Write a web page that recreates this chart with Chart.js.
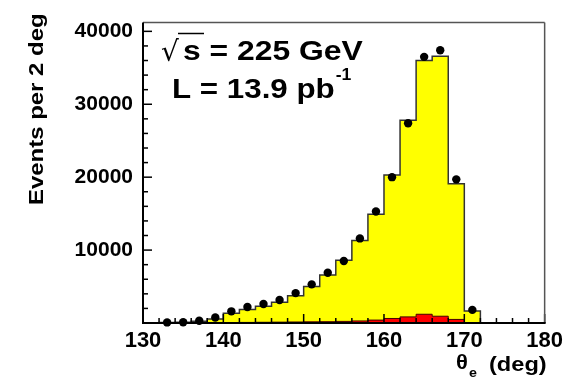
<!DOCTYPE html>
<html>
<head>
<meta charset="utf-8">
<script src="https://cdn.jsdelivr.net/npm/chart.js@4"></script>
<style>
  html, body { margin: 0; padding: 0; background: #fff; }
  canvas { display: block; }
</style>
</head>
<body>
<canvas id="chart" width="568" height="378"></canvas>
<script>
// Centros de los bins (2 grados cada uno)
const theta = [133, 135, 137, 139, 141, 143, 145, 147, 149, 151, 153, 155, 157, 159, 161, 163, 165, 167, 169, 171];
// Datos (puntos negros)
const dataEvents = [80, 100, 300, 750, 1600, 2200, 2600, 3150, 4100, 5300, 6900, 8500, 11600, 15300, 20000, 27400, 36500, 37400, 19700, 1800];
// Simulación total (amarillo)
const mcTotal = [60, 100, 250, 550, 1350, 1850, 2300, 2850, 3750, 5000, 6600, 8600, 11300, 14900, 20300, 27800, 36000, 36600, 19100, 1650];
// Fondo (rojo)
const mcBackground = [0, 0, 20, 40, 60, 80, 100, 120, 140, 160, 180, 220, 280, 400, 620, 840, 1200, 930, 490, 30];

const xTicks = [130, 140, 150, 160, 170, 180];
const yTicks = [10000, 20000, 30000, 40000];
const binWidth = 2;

const FONT = '"Liberation Sans", Arial, sans-serif';

// Histograma como línea escalonada desde los bordes de los bins
const toSteps = (values) => {
    const pts = [{ x: theta[0] - binWidth / 2, y: 0 }];
    theta.forEach((c, i) => pts.push({ x: c - binWidth / 2, y: values[i] }));
    pts.push({ x: theta[theta.length - 1] + binWidth / 2, y: 0 });
    return pts;
};

const line = (ctx, x1, y1, x2, y2) => {
    ctx.beginPath();
    ctx.moveTo(x1, y1);
    ctx.lineTo(x2, y2);
    ctx.stroke();
};

const stretchText = (ctx, text, x, y, sx) => {
    ctx.save();
    ctx.translate(x, y);
    ctx.scale(sx, 1);
    ctx.fillText(text, 0, 0);
    const w = ctx.measureText(text).width * sx;
    ctx.restore();
    return w;
};

// Marco, ticks hacia dentro y textos
const framePlugin = {
    id: 'frame',
    afterDatasetsDraw(chart) {
        const { ctx, chartArea: a, scales: { x, y } } = chart;
        ctx.save();
        ctx.strokeStyle = '#000';
        ctx.lineWidth = 1.5;
        for (let v = 130; v <= 180; v += 2) {
            const px = x.getPixelForValue(v);
            line(ctx, px, a.bottom, px, a.bottom - (v % 10 === 0 ? 9 : 5));
        }
        for (let v = 0; v <= y.max; v += 2000) {
            const py = y.getPixelForValue(v);
            line(ctx, a.left, py, a.left + (v % 10000 === 0 ? 9 : 5), py);
        }
        ctx.strokeStyle = '#555';
        ctx.lineWidth = 1.5;
        line(ctx, a.left, a.top, a.right, a.top);
        line(ctx, a.right, a.top, a.right, a.bottom);
        ctx.strokeStyle = '#000';
        ctx.lineWidth = 2;
        line(ctx, a.left, a.top, a.left, a.bottom + 1);
        line(ctx, a.left, a.bottom, a.right + 1, a.bottom);
        ctx.restore();
    },
    afterDraw(chart) {
        const { ctx } = chart;
        ctx.save();
        ctx.fillStyle = '#000';
        ctx.textBaseline = 'alphabetic';
        ctx.textAlign = 'left';

        // sqrt(s) = 225 GeV
        ctx.font = '28px "DejaVu Sans"';
        ctx.fillText('√', 161, 61);
        ctx.strokeStyle = '#000';
        ctx.lineWidth = 1.5;
        line(ctx, 178, 33.5, 204, 33.5);
        ctx.font = 'bold 27px ' + FONT;
        stretchText(ctx, 's = 225 GeV', 183, 60, 1.18);

        // L = 13.9 pb^-1
        const w = stretchText(ctx, 'L = 13.9 pb', 172, 98, 1.16);
        ctx.font = 'bold 16px ' + FONT;
        stretchText(ctx, '-1', 172 + w + 1, 80, 1.1);

        // Título eje x
        ctx.font = 'bold 20px ' + FONT;
        stretchText(ctx, 'θ', 456, 369, 1.1);
        ctx.font = 'bold 13px ' + FONT;
        stretchText(ctx, 'e', 469, 377, 1.1);
        ctx.font = 'bold 20px ' + FONT;
        stretchText(ctx, '(deg)', 489, 371, 1.18);

        // Título eje y
        ctx.translate(43, 205);
        ctx.rotate(-Math.PI / 2);
        ctx.font = 'bold 21px ' + FONT;
        stretchText(ctx, 'Events per 2 deg', 0, 0, 1.14);
        ctx.restore();
    }
};

const ctx = document.getElementById('chart');

new Chart(ctx, {
    type: 'scatter',
    data: {
        datasets: [
            {
                type: 'scatter',
                label: 'Datos',
                data: theta.map((c, i) => ({ x: c, y: dataEvents[i] })),
                backgroundColor: '#000',
                borderWidth: 0,
                pointRadius: 4.2,
                clip: false,
                order: 0
            },
            {
                type: 'line',
                label: 'Fondo',
                data: toSteps(mcBackground),
                stepped: 'before',
                borderColor: '#400',
                borderWidth: 1,
                backgroundColor: '#ff0000',
                fill: 'origin',
                pointRadius: 0,
                order: 1
            },
            {
                type: 'line',
                label: 'MC',
                data: toSteps(mcTotal),
                stepped: 'before',
                borderColor: '#333',
                borderWidth: 1.5,
                backgroundColor: '#ffff00',
                fill: 'origin',
                pointRadius: 0,
                order: 2
            }
        ]
    },
    options: {
        responsive: false,
        animation: false,
        layout: { padding: { left: 0, right: 20, top: 14, bottom: 0 } },
        plugins: {
            legend: { display: false },
            tooltip: { enabled: false }
        },
        scales: {
            x: {
                type: 'linear',
                min: 130,
                max: 180,
                afterFit: (s) => { s.height = 55; },
                afterBuildTicks: (s) => { s.ticks = xTicks.map(v => ({ value: v })); },
                grid: { display: false, drawTicks: false },
                border: { display: false },
                ticks: {
                    color: '#000',
                    padding: 5,
                    maxRotation: 0,
                    font: { family: FONT, size: 22, weight: 'bold' }
                }
            },
            y: {
                type: 'linear',
                min: 0,
                max: 41200,
                afterFit: (s) => { s.width = 143; },
                afterBuildTicks: (s) => { s.ticks = yTicks.map(v => ({ value: v })); },
                grid: { display: false, drawTicks: false },
                border: { display: false },
                ticks: {
                    color: '#000',
                    padding: 10,
                    font: { family: FONT, size: 21, weight: 'bold' },
                    callback: (v) => String(v)
                }
            }
        }
    },
    plugins: [framePlugin]
});
</script>
</body>
</html>
